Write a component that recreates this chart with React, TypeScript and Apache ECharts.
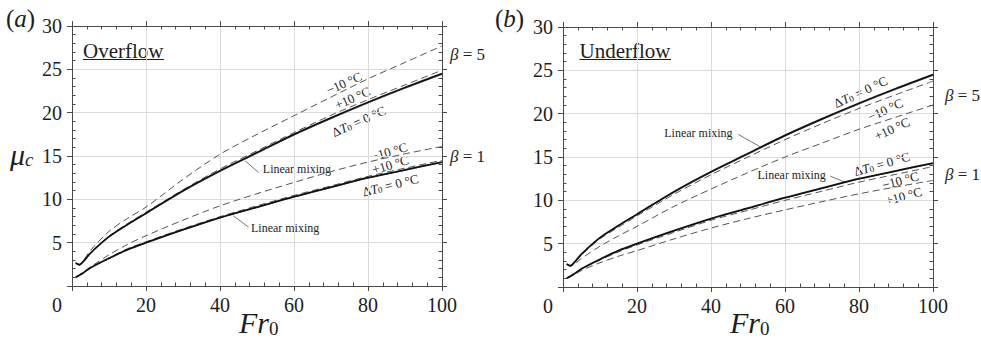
import React, { useEffect, useRef } from 'react';
import * as echarts from 'echarts';

// ---------- data ----------
const frValues = [1, 2, 3, 5, 10, 15, 20, 30, 40, 50, 60, 70, 80, 90, 100];

// beta = 5
const beta5Zero = [2.65, 2.45, 2.8, 3.8, 5.7, 7.1, 8.4, 11.0, 13.3, 15.4, 17.5, 19.4, 21.2, 22.9, 24.5];
const beta5Linear = [2.65, 2.45, 2.8, 3.78, 5.65, 7.05, 8.35, 10.9, 13.2, 15.3, 17.4, 19.3, 21.1, 22.8, 24.4];
const beta5OverMinus10 = [2.65, 2.5, 2.9, 4.1, 6.3, 7.8, 9.1, 12.3, 15.2, 17.5, 19.65, 21.8, 23.9, 25.8, 27.7];
const beta5OverPlus10 = [2.65, 2.45, 2.8, 3.82, 5.75, 7.2, 8.5, 11.1, 13.5, 15.6, 17.7, 19.7, 21.5, 23.2, 24.9];
const beta5UnderMinus10 = [2.65, 2.45, 2.75, 3.7, 5.55, 6.9, 8.2, 10.7, 12.95, 15.0, 17.0, 18.85, 20.6, 22.2, 23.75];
const beta5UnderPlus10 = [2.6, 2.4, 2.6, 3.3, 4.7, 5.9, 7.0, 9.3, 11.3, 13.2, 15.0, 16.6, 18.2, 19.6, 21.0];

// beta = 1
const beta1Zero = [1.0, 1.25, 1.5, 2.1, 3.2, 4.2, 5.0, 6.5, 7.9, 9.1, 10.3, 11.4, 12.5, 13.4, 14.3];
const beta1Linear = [1.0, 1.25, 1.5, 2.08, 3.15, 4.15, 4.95, 6.45, 7.85, 9.05, 10.25, 11.35, 12.45, 13.35, 14.25];
const beta1OverMinus10 = [1.0, 1.3, 1.6, 2.2, 3.6, 4.8, 5.8, 7.6, 9.25, 10.65, 11.95, 13.2, 14.3, 15.25, 16.1];
const beta1OverPlus10 = [1.0, 1.25, 1.5, 2.15, 3.25, 4.3, 5.1, 6.6, 8.0, 9.25, 10.45, 11.55, 12.65, 13.6, 14.5];
const beta1UnderMinus10 = [1.0, 1.25, 1.5, 2.05, 3.1, 4.05, 4.85, 6.3, 7.7, 8.85, 10.0, 11.05, 12.1, 13.0, 13.9];
const beta1UnderPlus10 = [1.0, 1.2, 1.4, 1.9, 2.8, 3.55, 4.2, 5.55, 6.8, 7.9, 8.9, 9.85, 10.75, 11.55, 12.3];

const panelTitles = ['Overflow', 'Underflow'];
const panelLetters = ['a', 'b'];
const betaLabels = ['5', '1'];

// annotation anchors in data coordinates (Fr0, mu_c)
type Anno = { panel: number; kind: 'minus' | 'plus' | 'zero' | 'linear'; fr: number; mu: number; angle: number; leader?: number[] };
const annotations: Anno[] = [
  { panel: 0, kind: 'minus', fr: 73.4, mu: 23.5, angle: 24 },
  { panel: 0, kind: 'plus', fr: 75.7, mu: 21.8, angle: 24 },
  { panel: 0, kind: 'zero', fr: 77.4, mu: 19.1, angle: 24 },
  { panel: 0, kind: 'minus', fr: 85.6, mu: 15.6, angle: 16 },
  { panel: 0, kind: 'plus', fr: 86.0, mu: 14.1, angle: 16 },
  { panel: 0, kind: 'zero', fr: 86.0, mu: 11.75, angle: 14 },
  { panel: 0, kind: 'linear', fr: 60.8, mu: 13.5, angle: 0, leader: [46.8, 14.45, 50.4, 13.1] },
  { panel: 0, kind: 'linear', fr: 57.6, mu: 6.74, angle: 0, leader: [43.6, 8.1, 47.7, 6.8] },
  { panel: 1, kind: 'zero', fr: 80.3, mu: 22.6, angle: 25 },
  { panel: 1, kind: 'minus', fr: 87.0, mu: 20.55, angle: 25 },
  { panel: 1, kind: 'plus', fr: 88.8, mu: 18.35, angle: 25 },
  { panel: 1, kind: 'zero', fr: 86.1, mu: 14.3, angle: 16 },
  { panel: 1, kind: 'minus', fr: 91.1, mu: 12.4, angle: 15 },
  { panel: 1, kind: 'plus', fr: 92.0, mu: 10.6, angle: 15 },
  { panel: 1, kind: 'linear', fr: 36.6, mu: 17.8, angle: 0, leader: [47.4, 17.6, 53.2, 16.2] },
  { panel: 1, kind: 'linear', fr: 61.8, mu: 12.95, angle: 0, leader: [72.2, 12.8, 76.7, 12.0] },
];

// ---------- styles ----------
const FONT = 'Liberation Serif';
const AXIS_COLOR = '#4a4a4a';
const GRID_COLOR = '#dcdcdc';
const TEXT_COLOR = '#1e1e1e';
const GRIDS = [
  { left: 72, top: 26, width: 370, height: 260 },
  { left: 563, top: 27, width: 370, height: 260 },
];

const pairs = (ys: number[]) => frValues.map((x, i) => [x, ys[i]]);

function axisSet(dim: 'x' | 'y', g: number) {
  const isX = dim === 'x';
  const span = isX ? GRIDS[g].height : GRIDS[g].width;
  const base: any = isX
    ? { type: 'value', gridIndex: g, min: 0, max: 100, interval: 20 }
    : { type: 'value', gridIndex: g, min: 0, max: 30, interval: 5 };
  const near = isX ? 'bottom' : 'left';
  const far = isX ? 'top' : 'right';
  const line = { show: true, onZero: false, lineStyle: { color: AXIS_COLOR, width: 1 } };
  const outTick = { show: true, inside: false, length: 5, lineStyle: { color: AXIS_COLOR, width: 1 } };
  const minor = { show: true, splitNumber: 5, length: 3.5, lineStyle: { color: AXIS_COLOR, width: 1 } };
  const hidden = {
    axisLine: { show: false, onZero: false },
    axisTick: { show: false },
    minorTick: minor,
    splitLine: { show: false },
    axisLabel: { show: false },
  };
  const labelCfg = isX
    ? {
        show: true, margin: 9, fontSize: 20, fontFamily: FONT, color: TEXT_COLOR,
        formatter: (v: number) => (v === 0 ? '{z|0}' : String(v)),
        rich: { z: { fontSize: 20, fontFamily: FONT, color: TEXT_COLOR, padding: [0, 30, 0, 0] } },
      }
    : {
        show: true, margin: 10, fontSize: 20, fontFamily: FONT, color: TEXT_COLOR,
        formatter: (v: number) => (v === 0 ? '' : String(v)),
      };
  return [
    {
      ...base, position: near, axisLine: line, axisTick: outTick, minorTick: { show: false },
      splitLine: { show: true, showMinLine: false, showMaxLine: false, lineStyle: { color: GRID_COLOR, width: 1 } },
      axisLabel: labelCfg,
    },
    { ...base, position: far, axisLine: line, axisTick: outTick, minorTick: { show: false }, splitLine: { show: false }, axisLabel: { show: false } },
    // inward minor ticks: an axis of the far side pulled onto the near edge, and vice versa
    { ...base, position: far, offset: -span, ...hidden },
    { ...base, position: near, offset: -span, ...hidden },
  ];
}

function lineSeries(g: number, ys: number[], kind: 'solid' | 'dashed' | 'linear') {
  const style =
    kind === 'solid'
      ? { color: '#111', width: 1.8, type: 'solid' }
      : kind === 'linear'
      ? { color: '#777', width: 1, type: 'solid' }
      : { color: '#555', width: 1, type: [7, 4] };
  return {
    type: 'line',
    xAxisIndex: g * 4,
    yAxisIndex: g * 4,
    data: pairs(ys),
    showSymbol: false,
    symbol: 'none',
    smooth: 0.3,
    lineStyle: style,
    z: kind === 'solid' ? 4 : kind === 'linear' ? 3 : 2,
    silent: true,
  };
}

const titleRich = (subLine: number) => ({
  i: { fontSize: 30, fontFamily: FONT, fontStyle: 'italic', fill: TEXT_COLOR, lineHeight: 32, verticalAlign: 'bottom' },
  s: { fontSize: 19, fontFamily: FONT, fill: TEXT_COLOR, lineHeight: subLine, verticalAlign: 'bottom' },
  si: { fontSize: 19, fontFamily: FONT, fontStyle: 'italic', fill: TEXT_COLOR, lineHeight: subLine, verticalAlign: 'bottom' },
});

function staticGraphics() {
  const els: any[] = [];
  GRIDS.forEach((grid, g) => {
    const cx = grid.left + grid.width / 2;
    els.push({
      type: 'text', x: g === 0 ? 6 : 495, y: 18,
      style: {
        text: `{p|(}{i|${panelLetters[g]}}{p|)}`, fontFamily: FONT, fontSize: 25, align: 'left', verticalAlign: 'middle',
        rich: {
          p: { fontSize: 25, fontFamily: FONT, fill: TEXT_COLOR },
          i: { fontSize: 25, fontFamily: FONT, fontStyle: 'italic', fill: TEXT_COLOR },
        },
      },
    });
    const tx = g === 0 ? 83 : 579.5;
    const tw = g === 0 ? 81 : 91.5;
    els.push({
      type: 'text', x: tx, y: 50.5,
      style: { text: panelTitles[g], fontSize: 21, fontFamily: FONT, fill: TEXT_COLOR, align: 'left', verticalAlign: 'middle' },
    });
    els.push({
      type: 'line',
      shape: { x1: tx, y1: 59.5, x2: tx + tw, y2: 59.5 },
      style: { stroke: TEXT_COLOR, lineWidth: 1 },
    });
    els.push({
      type: 'text', x: cx - 18, y: 321.6,
      style: { text: '{i|Fr}{s|0}', fontFamily: FONT, fontSize: 30, align: 'left', verticalAlign: 'middle', rich: titleRich(7) },
    });
    const bx = g === 0 ? 450 : 945;
    const by = g === 0 ? [54.5, 156] : [95.5, 174.5];
    betaLabels.forEach((b, k) => {
      els.push({
        type: 'text', x: bx, y: by[k],
        style: {
          text: `{i|β}{n| = ${b}}`, fontFamily: FONT, fontSize: 17, align: 'left', verticalAlign: 'middle',
          rich: {
            i: { fontSize: 17, fontFamily: FONT, fontStyle: 'italic', fill: TEXT_COLOR },
            n: { fontSize: 17, fontFamily: FONT, fill: TEXT_COLOR },
          },
        },
      });
    });
  });
  els.push({
    type: 'text', x: 10, y: 153.4,
    style: { text: '{i|μ}{si|c}', fontFamily: FONT, fontSize: 30, align: 'left', verticalAlign: 'middle', rich: titleRich(15) },
  });
  return els;
}

function buildOption() {
  const series = [
    lineSeries(0, beta5OverMinus10, 'dashed'),
    lineSeries(0, beta5OverPlus10, 'dashed'),
    lineSeries(0, beta5Linear, 'linear'),
    lineSeries(0, beta5Zero, 'solid'),
    lineSeries(0, beta1OverMinus10, 'dashed'),
    lineSeries(0, beta1OverPlus10, 'dashed'),
    lineSeries(0, beta1Linear, 'linear'),
    lineSeries(0, beta1Zero, 'solid'),
    lineSeries(1, beta5UnderMinus10, 'dashed'),
    lineSeries(1, beta5UnderPlus10, 'dashed'),
    lineSeries(1, beta5Linear, 'linear'),
    lineSeries(1, beta5Zero, 'solid'),
    lineSeries(1, beta1UnderMinus10, 'dashed'),
    lineSeries(1, beta1UnderPlus10, 'dashed'),
    lineSeries(1, beta1Linear, 'linear'),
    lineSeries(1, beta1Zero, 'solid'),
  ];
  return {
    animation: false,
    grid: GRIDS.map((g) => ({ ...g, containLabel: false })),
    xAxis: [...axisSet('x', 0), ...axisSet('x', 1)],
    yAxis: [...axisSet('y', 0), ...axisSet('y', 1)],
    graphic: staticGraphics(),
    series,
  };
}

const annoRich = {
  n: { fontSize: 13, fontFamily: FONT, fill: TEXT_COLOR, lineHeight: 15, verticalAlign: 'bottom' },
  i: { fontSize: 13, fontFamily: FONT, fontStyle: 'italic', fill: TEXT_COLOR, lineHeight: 15, verticalAlign: 'bottom' },
  s: { fontSize: 9, fontFamily: FONT, fill: TEXT_COLOR, lineHeight: 4, verticalAlign: 'bottom' },
};

function annotationGraphics(chart: any) {
  const els: any[] = [];
  const toPx = (g: number, x: number, y: number) => chart.convertToPixel({ seriesIndex: g * 8 + 3 }, [x, y]);
  annotations.forEach((a) => {
    const [px, py] = toPx(a.panel, a.fr, a.mu);
    let text = '';
    if (a.kind === 'minus') text = '{n|−10 °C}';
    else if (a.kind === 'plus') text = '{n|+10 °C}';
    else if (a.kind === 'zero') text = '{n|Δ}{i|T}{s|0}{n| = 0 °C}';
    else text = '{n|Linear mixing}';
    els.push({
      type: 'text', x: px, y: py, rotation: (a.angle * Math.PI) / 180,
      style: {
        text, fontFamily: FONT, fontSize: 13, align: 'center', verticalAlign: 'middle',
        rich: a.kind === 'linear' ? { n: { fontSize: 12, fontFamily: FONT, fill: TEXT_COLOR } } : annoRich,
      },
    });
    if (a.leader) {
      const [x1, y1] = toPx(a.panel, a.leader[0], a.leader[1]);
      const [x2, y2] = toPx(a.panel, a.leader[2], a.leader[3]);
      els.push({
        type: 'line',
        shape: { x1, y1, x2, y2 },
        style: { stroke: '#555', lineWidth: 0.8 },
      });
    }
  });
  return els;
}

export default function App() {
  const ref = useRef<HTMLDivElement>(null);
  useEffect(() => {
    const el = ref.current;
    if (!el) return;
    const chart = echarts.init(el, null, { renderer: 'svg' });
    const option: any = buildOption();
    chart.setOption(option);
    const statics = option.graphic as any[];
    chart.setOption({ graphic: [...statics, ...annotationGraphics(chart)] } as any);
    return () => chart.dispose();
  }, []);
  return <div ref={ref} style={{ position: 'absolute', left: 0, top: 0, width: 981, height: 345 }} />;
}
